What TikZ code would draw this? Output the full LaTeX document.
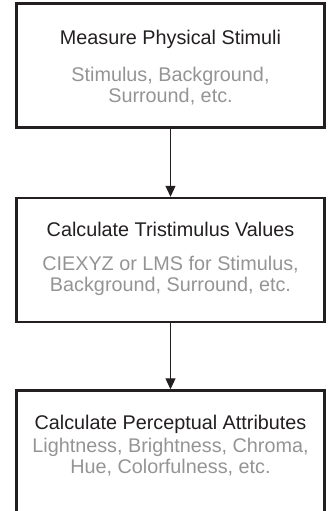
\documentclass[tikz,border=0pt]{standalone}
\usepackage{fontspec}
\setmainfont{Liberation Sans}
\usetikzlibrary{arrows.meta}

\definecolor{ink}{HTML}{231F20}

\begin{document}
\begin{tikzpicture}[x=1pt,y=-1pt]
			\tikzstyle{Step}	= [draw=ink, line width=2.4pt, minimum width=308pt, minimum height=124pt, inner sep=0pt]
			\tikzstyle{Title}	= [anchor=base, text=ink, font=\fontsize{19.8}{20.5}\selectfont]
			\tikzstyle{Detail}	= [anchor=base, text=black!42, align=center, font=\fontsize{19.8}{20.5}\selectfont]
			\tikzstyle{Flow}	= [-{Triangle[width=10pt,length=11pt]}, line width=1pt, ink]

			\useasboundingbox (0,0) rectangle (328,511);
			\clip (0,0) rectangle (328,511);

			% the three steps, last one runs off the bottom
			\node (measure) at (170.5, 65.5) [Step] {};
			\node (tristim) at (170.5, 260) [Step] {};
			\node (percept) at (170.5, 452.5) [Step] {};

			% base of a two-line Detail sits on its second line
			\node (measureT) at (170.5, 45) [Title] {Measure Physical Stimuli};
			\node (measureD) at (170.5, 102) [Detail] {Stimulus, Background,\\Surround, etc.};

			\node (tristimT) at (170.5, 236) [Title] {Calculate Tristimulus Values};
			\node (tristimD) at (170.5, 291) [Detail] {CIEXYZ or LMS for Stimulus,\\Background, Surround, etc.};

			\node (perceptT) at (170.5, 429) [Title] {Calculate Perceptual Attributes};
			\node (perceptD) at (170.5, 473) [Detail] {Lightness, Brightness, Chroma,\\Hue, Colorfulness, etc.};

			\draw [Flow] (measure.south) to (tristim.north);
			\draw [Flow] (tristim.south) to (percept.north);
		\end{tikzpicture}
\end{document}
